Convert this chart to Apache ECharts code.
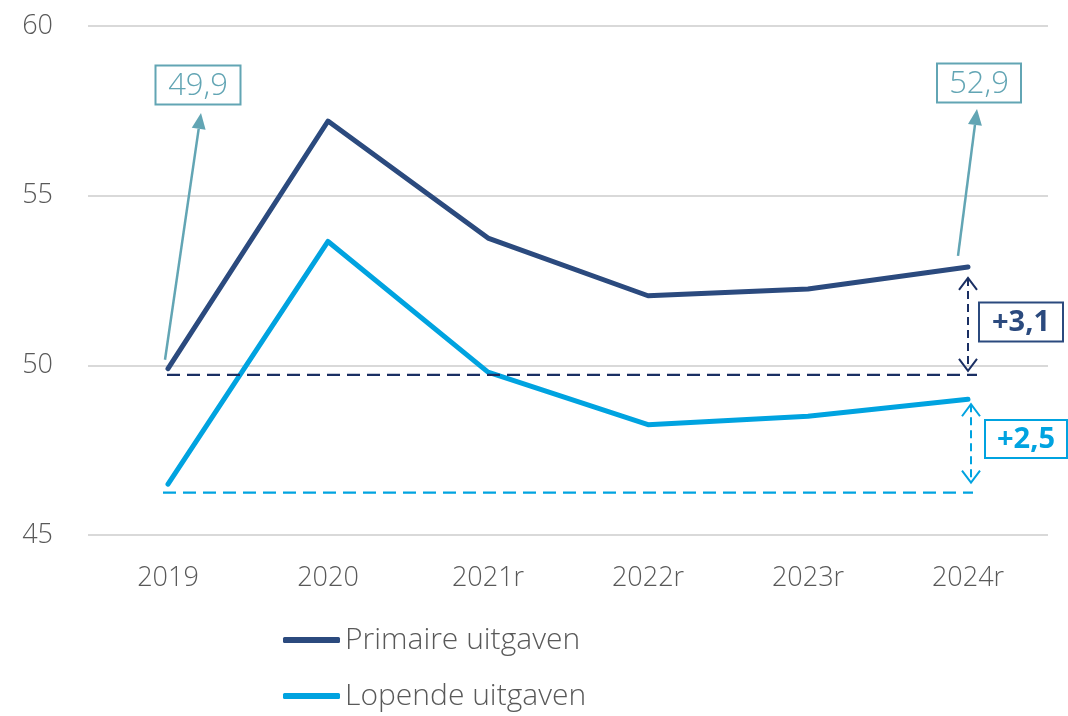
<!DOCTYPE html>
<html>
<head>
<meta charset="utf-8">
<script src="https://cdn.jsdelivr.net/npm/echarts@6/dist/echarts.min.js"></script>
<style>
  html, body { margin: 0; padding: 0; background: #fff; }
  #chart { width: 1068px; height: 716px; }
</style>
</head>
<body>
<div id="chart"></div>
<script>
const categories = ['2019', '2020', '2021r', '2022r', '2023r', '2024r'];
const primaire = [49.9, 57.2, 53.75, 52.05, 52.25, 52.9];
const lopende = [46.5, 53.65, 49.8, 48.25, 48.5, 49.0];
const seriesNames = ['Primaire uitgaven', 'Lopende uitgaven'];
const baseLevels = [49.72, 46.25];       // dashed reference lines
const deltaLabels = ['+3,1', '+2,5'];
const endLabels = ['49,9', '52,9'];

const NAVY = '#2B4A7E';
const NAVY_DARK = '#1A2F63';
const BLUE = '#00A3E0';
const TEAL = '#62A5B4';
const GREY_TEXT = '#595959';
const FONT = '"Open Sans", "Noto Sans", sans-serif';

const chart = echarts.init(document.getElementById('chart'), null, { renderer: 'canvas' });

const option = {
  animation: false,
  grid: { left: 88, right: 20, top: 26, bottom: 181, containLabel: false },
  xAxis: {
    type: 'category',
    data: categories,
    boundaryGap: true,
    axisLine: { show: false },
    axisTick: { show: false },
    axisLabel: { color: GREY_TEXT, fontSize: 27, fontFamily: FONT, fontWeight: 300, margin: 30 }
  },
  yAxis: {
    type: 'value',
    min: 45,
    max: 60,
    interval: 5,
    axisLine: { show: false },
    axisTick: { show: false },
    axisLabel: { color: GREY_TEXT, fontSize: 27, fontFamily: FONT, fontWeight: 300, margin: 35 },
    splitLine: { lineStyle: { color: '#D9D9D9', width: 2 } }
  },
  legend: {
    orient: 'vertical',
    left: 278,
    top: 620,
    itemGap: 26,
    itemWidth: 57,
    itemHeight: 6,
    icon: 'roundRect',
    textStyle: { color: GREY_TEXT, fontSize: 30, fontFamily: FONT, fontWeight: 300, lineHeight: 30 },
    data: seriesNames
  },
  series: [
    {
      name: seriesNames[0], type: 'line', data: primaire, showSymbol: false, symbol: 'none',
      color: NAVY, lineStyle: { width: 5, color: NAVY, cap: 'round', join: 'round' }, z: 3
    },
    {
      name: seriesNames[1], type: 'line', data: lopende, showSymbol: false, symbol: 'none',
      color: BLUE, lineStyle: { width: 5, color: BLUE, cap: 'round', join: 'round' }, z: 3
    }
  ]
};

chart.setOption(option);

// annotations positioned from data through the grid
function px(cat, v) { return chart.convertToPixel({ gridIndex: 0 }, [cat, v]); }

function chevron(x, y, dir, color) {
  // open arrow head, apex at (x, y); dir = -1 points up, 1 points down
  return {
    type: 'polyline', z: 10,
    shape: { points: [[x - 9, y - dir * 12], [x, y], [x + 9, y - dir * 12]] },
    style: { stroke: color, lineWidth: 2, fill: null }
  };
}

function deltaArrow(x, yTop, yBottom, color) {
  return [
    { type: 'line', z: 10, shape: { x1: x, y1: yTop, x2: x, y2: yBottom },
      style: { stroke: color, lineWidth: 2, lineDash: [8, 5] } },
    chevron(x, yTop, -1, color),
    chevron(x, yBottom, 1, color)
  ];
}

function box(cx, cy, w, h, text, color, bold, borderW, size) {
  return {
    type: 'group', z: 11, x: cx - w / 2, y: cy - h / 2,
    children: [
      { type: 'rect', shape: { x: 0, y: 0, width: w, height: h },
        style: { fill: '#fff', stroke: color, lineWidth: borderW } },
      { type: 'text', x: w / 2, y: h / 2 + 1,
        style: { text: text, fill: color, font: (bold ? 'bold ' : '300 ') + size + 'px ' + FONT,
          align: 'center', verticalAlign: 'middle' } }
    ]
  };
}

function pointerArrow(x1, y1, x2, y2, color) {
  const ang = Math.atan2(y2 - y1, x2 - x1);
  const len = 16, half = 7;
  const bx = x2 - len * Math.cos(ang), by = y2 - len * Math.sin(ang);
  const nx = -Math.sin(ang), ny = Math.cos(ang);
  return [
    { type: 'line', z: 10, shape: { x1: x1, y1: y1, x2: bx, y2: by },
      style: { stroke: color, lineWidth: 2.5 } },
    { type: 'polygon', z: 10,
      shape: { points: [[x2, y2], [bx + nx * half, by + ny * half], [bx - nx * half, by - ny * half]] },
      style: { fill: color } }
  ];
}

function buildGraphics() {
  const first = categories[0], last = categories[categories.length - 1];
  const topY = px(first, 60)[1];
  const els = [];

  // dashed baselines
  const baseColors = [NAVY_DARK, BLUE];
  const baseStart = [-1, -5], baseEnd = [9, 5];
  baseLevels.forEach(function (lv, i) {
    const a = px(first, lv), b = px(last, lv);
    els.push({ type: 'line', z: 9,
      shape: { x1: a[0] + baseStart[i], y1: a[1], x2: b[0] + baseEnd[i], y2: b[1] },
      style: { stroke: baseColors[i], lineWidth: 2.2, lineDash: [13, 7] } });
  });

  // delta arrows and labels at the last year
  const pEnd = px(last, primaire[primaire.length - 1]);
  const lEnd = px(last, lopende[lopende.length - 1]);
  const b0 = px(last, baseLevels[0]), b1 = px(last, baseLevels[1]);
  els.push.apply(els, deltaArrow(pEnd[0], pEnd[1] + 11, b0[1] - 4, NAVY_DARK));
  els.push.apply(els, deltaArrow(lEnd[0] + 3, lEnd[1] + 5, b1[1] - 10, BLUE));
  els.push(box(pEnd[0] + 53, (pEnd[1] + b0[1]) / 2 + 1, 84, 39, deltaLabels[0], NAVY, true, 2, 29));
  els.push(box(lEnd[0] + 58, (lEnd[1] + b1[1]) / 2 - 7, 82, 38, deltaLabels[1], BLUE, true, 2, 29));

  // value call-outs
  const pStart = px(first, primaire[0]);
  const c1x = pStart[0] + 30, c2x = pEnd[0] + 11, cy = topY + 59;
  els.push(box(c1x, cy, 85, 39, endLabels[0], TEAL, false, 2, 31));
  els.push(box(c2x, cy - 2, 84, 39, endLabels[1], TEAL, false, 2, 31));
  els.push.apply(els, pointerArrow(pStart[0] - 3, pStart[1] - 9, c1x + 3, cy + 28, TEAL));
  els.push.apply(els, pointerArrow(pEnd[0] - 10, pEnd[1] - 11, c2x - 2, cy + 24, TEAL));

  chart.setOption({ graphic: { elements: els } });
}

buildGraphics();
window.addEventListener('resize', function () { chart.resize(); buildGraphics(); });
</script>
</body>
</html>
